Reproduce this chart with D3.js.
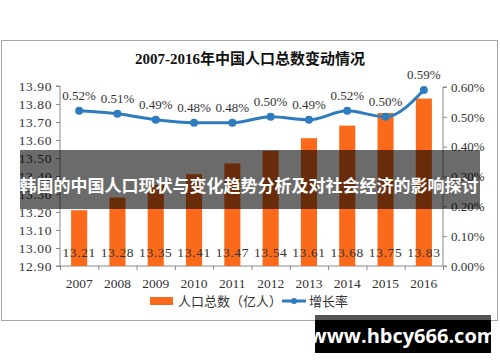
<!DOCTYPE html>
<html>
<head>
  <meta charset="utf-8">
  <script src="https://d3js.org/d3.v7.min.js"></script>
  <style>
    body { margin: 0; background: #fff; }
    svg text { font-family: "Liberation Serif", "Noto Sans CJK SC", serif; }
  </style>
</head>
<body>
  <svg id="chart" width="500" height="362"></svg>

  <script>
    // chart data
    const years = ["2007", "2008", "2009", "2010", "2011", "2012", "2013", "2014", "2015", "2016"];
    const population = [13.21, 13.28, 13.35, 13.41, 13.47, 13.54, 13.61, 13.68, 13.75, 13.83];
    const growth = [0.52, 0.51, 0.49, 0.48, 0.48, 0.50, 0.49, 0.52, 0.50, 0.59];
    const leftTicks = [12.9, 13.0, 13.1, 13.2, 13.3, 13.4, 13.5, 13.6, 13.7, 13.8, 13.9];
    const rightTicks = [0, 0.1, 0.2, 0.3, 0.4, 0.5, 0.6];

    const title = "2007-2016年中国人口总数变动情况";
    const banner = "韩国的中国人口现状与变化趋势分析及对社会经济的影响探讨";
    const site = "www.hbcy666.com";

    const svg = d3.select("#chart");
    const plot = { left: 60, right: 443, top: 86, bottom: 266 };

    const orange = "#fb6a1a";
    const blue = "#2e7bbd";

    // frame
    svg.append("rect")
      .attr("x", 1.5).attr("y", 40.5)
      .attr("width", 496).attr("height", 280)
      .attr("fill", "#fff").attr("stroke", "#a6a6a6");

    svg.append("text")
      .attr("x", 250).attr("y", 64)
      .attr("text-anchor", "middle")
      .attr("font-size", 15).attr("font-weight", "bold")
      .attr("fill", "#111")
      .text(title);

    const x = d3.scaleBand().domain(years).range([plot.left, plot.right]).paddingInner(0.58).paddingOuter(0.29);
    const xEdge = d3.scaleLinear().domain([0, years.length]).range([plot.left, plot.right]);
    const yL = d3.scaleLinear().domain([12.9, 13.9]).range([plot.bottom, plot.top]);
    const yR = d3.scaleLinear().domain([0, 0.6]).range([plot.bottom, plot.top + 1]);

    // left axis
    const leftAxis = svg.append("g")
      .attr("transform", `translate(${plot.left},0)`)
      .call(d3.axisLeft(yL).tickValues(leftTicks).tickFormat(d3.format(".2f")).tickSize(4).tickPadding(4));
    leftAxis.selectAll("text").attr("font-size", 13.5).attr("fill", "#333").attr("letter-spacing", 0.6)
      .style("font-family", "Liberation Serif");

    // right axis
    const rightAxis = svg.append("g")
      .attr("transform", `translate(${plot.right},0)`)
      .call(d3.axisRight(yR).tickValues(rightTicks).tickFormat(d => d.toFixed(2) + "%").tickSize(4).tickPadding(4));
    rightAxis.selectAll("text").attr("font-size", 13).attr("fill", "#333")
      .style("font-family", "Liberation Serif");

    // x axis with ticks between categories
    const xAxis = svg.append("g")
      .attr("transform", `translate(0,${plot.bottom})`)
      .call(d3.axisBottom(xEdge).tickValues(d3.range(years.length + 1)).tickFormat("").tickSize(4));
    svg.selectAll("g").selectAll(".domain").attr("stroke", "#888");
    svg.selectAll("g").selectAll(".tick line").attr("stroke", "#888");
    leftAxis.select(".domain").attr("d", `M-4,${plot.top}H0V${plot.bottom}H-4`);
    rightAxis.select(".domain").attr("d", `M4,${plot.top + 1}H0V${plot.bottom}H4`);
    xAxis.select(".domain").attr("d", `M${plot.left},0H${plot.right}`);

    svg.append("g").selectAll("text").data(years).join("text")
      .attr("x", d => x(d) + x.bandwidth() / 2)
      .attr("y", 288)
      .attr("text-anchor", "middle")
      .attr("font-size", 13.5).attr("fill", "#333")
      .text(d => d);

    // bars
    svg.append("g").selectAll("rect").data(population).join("rect")
      .attr("x", (d, i) => x(years[i]))
      .attr("width", x.bandwidth())
      .attr("y", d => yL(d))
      .attr("height", d => plot.bottom - yL(d))
      .attr("fill", orange);

    svg.append("g").selectAll("text").data(population).join("text")
      .attr("x", (d, i) => x(years[i]) + x.bandwidth() / 2)
      .attr("y", 257)
      .attr("text-anchor", "middle")
      .attr("font-size", 13.5).attr("fill", "#333").attr("letter-spacing", 0.6)
      .text(d => d.toFixed(2));

    // growth line
    const cx = i => x(years[i]) + x.bandwidth() / 2;
    const line = d3.line()
      .x((d, i) => cx(i))
      .y(d => yR(d))
      .curve(d3.curveMonotoneX);

    svg.append("path")
      .datum(growth)
      .attr("d", line)
      .attr("fill", "none")
      .attr("stroke", blue)
      .attr("stroke-width", 3);

    svg.append("g").selectAll("circle").data(growth).join("circle")
      .attr("cx", (d, i) => cx(i))
      .attr("cy", d => yR(d))
      .attr("r", 4)
      .attr("fill", blue);

    svg.append("g").selectAll("text").data(growth).join("text")
      .attr("x", (d, i) => cx(i))
      .attr("y", d => yR(d) - 11)
      .attr("text-anchor", "middle")
      .attr("font-size", 13).attr("fill", "#333")
      .text(d => d.toFixed(2) + "%");

    // legend
    const legend = svg.append("g");
    legend.append("rect").attr("x", 150).attr("y", 297).attr("width", 23).attr("height", 8).attr("fill", orange);
    legend.append("text").attr("x", 178).attr("y", 306).attr("font-size", 13).attr("fill", "#333")
      .style("font-family", "Noto Sans CJK SC").text("人口总数（亿人）");
    legend.append("line").attr("x1", 282).attr("x2", 306).attr("y1", 301).attr("y2", 301)
      .attr("stroke", blue).attr("stroke-width", 3);
    legend.append("circle").attr("cx", 294).attr("cy", 301).attr("r", 3).attr("fill", blue);
    legend.append("text").attr("x", 309).attr("y", 306).attr("font-size", 13).attr("fill", "#333")
      .style("font-family", "Noto Sans CJK SC").text("增长率");

    // overlay banner
    svg.append("rect")
      .attr("x", 20).attr("y", 150).attr("width", 460).attr("height", 59)
      .attr("fill", "#000").attr("opacity", 0.58);
    svg.append("text")
      .attr("x", 249).attr("y", 192)
      .attr("text-anchor", "middle")
      .attr("font-size", 17).attr("font-weight", "bold")
      .attr("fill", "#fff")
      .style("font-family", "Noto Sans CJK SC")
      .text(banner);

    // site box
    svg.append("rect")
      .attr("x", 315).attr("y", 315).attr("width", 176).attr("height", 38)
      .attr("fill", "#000");
    svg.append("rect")
      .attr("x", 315).attr("y", 315).attr("width", 176).attr("height", 5)
      .attr("fill", "#555");
    svg.append("text")
      .attr("x", 403).attr("y", 343)
      .attr("text-anchor", "middle")
      .attr("font-size", 20).attr("font-weight", "bold")
      .attr("fill", "#fff")
      .style("font-family", "Open Sans")
      .text(site);
  </script>
</body>
</html>
